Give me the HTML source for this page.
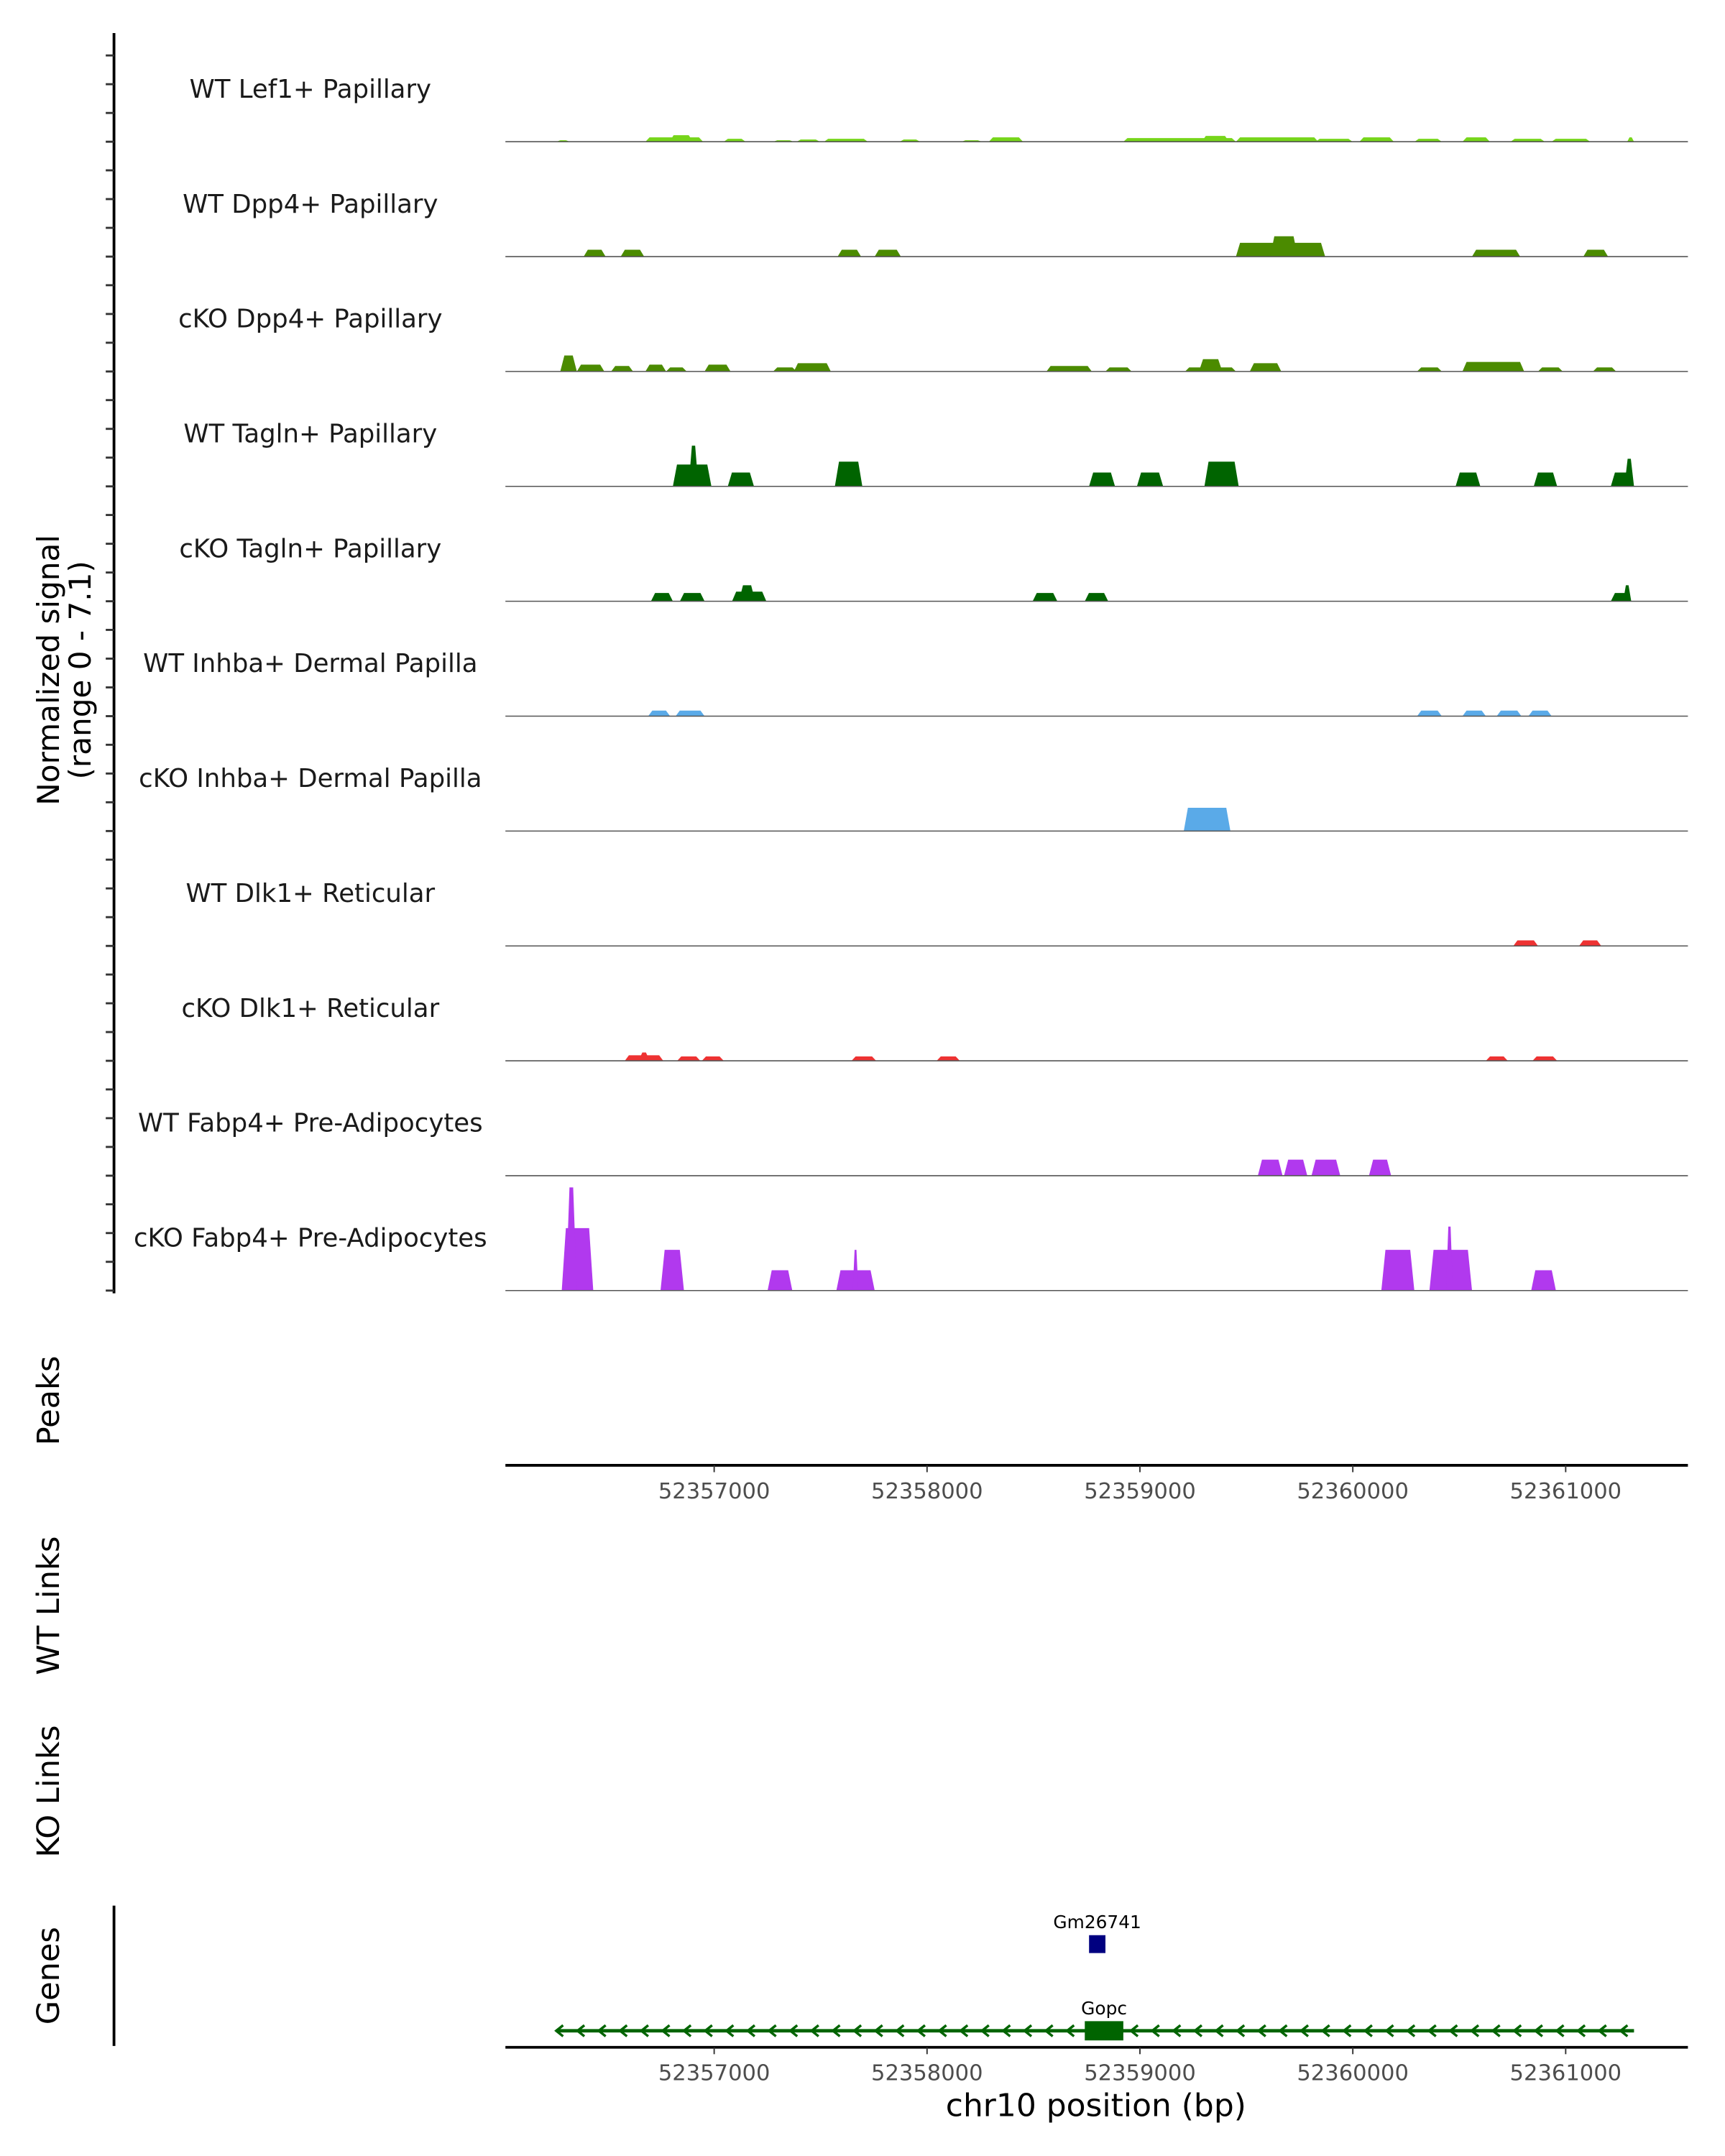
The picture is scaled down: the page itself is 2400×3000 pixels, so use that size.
<!DOCTYPE html>
<html><head><meta charset="utf-8"><style>
html,body{margin:0;padding:0;background:#fff}
svg{display:block}
text{font-family:"DejaVu Sans","Liberation Sans",sans-serif}
</style></head><body>
<svg id="chart" width="2400" height="3000" viewBox="0 0 1256 1567" preserveAspectRatio="none" xmlns="http://www.w3.org/2000/svg">
<g id="tracks"></g>
<g id="axes"></g>
</svg>
<script>
const trackNames = ["WT Lef1+ Papillary","WT Dpp4+ Papillary","cKO Dpp4+ Papillary","WT Tagln+ Papillary","cKO Tagln+ Papillary","WT Inhba+ Dermal Papilla","cKO Inhba+ Dermal Papilla","WT Dlk1+ Reticular","cKO Dlk1+ Reticular","WT Fabp4+ Pre-Adipocytes","cKO Fabp4+ Pre-Adipocytes"];
const trackColors = ["#76d51a","#4b8b00","#4b8b00","#006400","#006400","#5aaae8","#5aaae8","#ee3232","#ee3232","#b139ee","#b139ee"];
const xTicks = [52357000,52358000,52359000,52360000,52361000];
const xTickLabels = ["52357000","52358000","52359000","52360000","52361000"];
// peaks: [start offset bp from 52356000, end offset, signal]
const peaks0 = [[258,323,.1],[677,948,.3],[790,900,.45],[1045,1148,.2],[1277,1374,.1],[1387,1497,.15],[1516,1722,.2],[1871,1968,.15],[2161,2258,.1],[2290,2451,.3],[2922,3451,.25],[3290,3419,.4],[3451,3838,.3],[3825,3999,.2],[4031,4193,.3],[4290,4418,.2],[4515,4644,.3],[4741,4902,.2],[4934,5115,.2],[5289,5321,.3]];
const peaks1 = [[387,490,.47],[561,671,.47],[1580,1690,.47],[1754,1877,.47],[3451,3870,.95],[3612,3741,1.4],[4560,4786,.47],[5083,5199,.47]];
const peaks2 = [[277,355,1.1],[355,484,.47],[516,619,.38],[677,774,.47],[774,871,.28],[955,1077,.47],[1277,1387,.28],[1374,1548,.57],[2561,2774,.38],[2838,2961,.28],[3212,3451,.28],[3277,3387,.85],[3516,3664,.57],[4302,4418,.28],[4515,4805,.66],[4870,4986,.28],[5128,5237,.28]];
const peaks3 = [[806,987,1.5],[880,926,2.8],[1064,1187,.95],[1567,1696,1.7],[2761,2883,.95],[2986,3109,.95],[3303,3464,1.7],[3340,3430,1.5],[4483,4599,.95],[4850,4960,.95],[5212,5321,.95],[5276,5321,1.9]];
const peaks4 = [[703,806,.57],[839,955,.57],[1084,1245,.66],[1116,1193,1.1],[2496,2612,.57],[2741,2851,.57],[5212,5308,.57],[5270,5308,1.1]];
const peaks5 = [[690,793,.38],[819,955,.38],[4302,4418,.38],[4515,4625,.38],[4676,4792,.38],[4825,4934,.38]];
const peaks6 = [[3206,3425,1.6]];
const peaks7 = [[4754,4870,.38],[5063,5167,.38]];
const peaks8 = [[580,761,.38],[645,697,.57],[826,935,.3],[942,1045,.3],[1645,1761,.3],[2045,2154,.3],[4625,4728,.3],[4844,4960,.3]];
const peaks9 = [[3554,3670,1.1],[3677,3786,1.1],[3806,3941,1.1],[4076,4180,1.1]];
const peaks10 = [[284,432,4.3],[303,355,7.1],[748,858,2.8],[1251,1367,1.4],[1574,1754,1.4],[1651,1677,2.8],[4134,4289,2.8],[4360,4560,2.8],[4438,4470,4.4],[4838,4954,1.4]];
const allPeaks = [peaks0,peaks1,peaks2,peaks3,peaks4,peaks5,peaks6,peaks7,peaks8,peaks9,peaks10];
const genes = [{name:"Gm26741",start:2761,end:2838,y:1413,h:13,color:"#000080",line:false},{name:"Gopc",start:2741,end:2922,y:1476,h:14,color:"#006400",line:true,lineStart:258,lineEnd:5321}];
const yMax = 7.1;

const NS="http://www.w3.org/2000/svg";
const plotL=368, plotR=1229;
function x(off){return 365 + off/1000*155;}
function xAbs(bp){return x(bp-52356000);}
const base0=103, step=83.5, trackH=75;
function y(v,i){return base0+i*step - v/yMax*trackH;}
function mk(tag,attrs,parent,txt){const e=document.createElementNS(NS,tag);for(const k in attrs)e.setAttribute(k,attrs[k]);if(txt!==undefined)e.textContent=txt;parent.appendChild(e);return e;}
const T=document.getElementById('tracks'), A=document.getElementById('axes');

trackNames.forEach((nm,i)=>{
  const b=base0+i*step;
  const g=mk('g',{},T);
  
  
  const lab=mk('text',{x:226,y:b-32,'font-size':18.6,'text-anchor':'middle',fill:'#1a1a1a'},g,nm);
  
  
  allPeaks[i].forEach(p=>{
    const x0=x(p[0]),x1=x(p[1]);const s=Math.min(3,(x1-x0)/3);
    const yt=y(p[2],i);
    const poly=mk('polygon',{points:`${x0},${b} ${x0+s},${yt} ${x1-s},${yt} ${x1},${b}`,fill:trackColors[i]},g);
    
    
  });
  const bl=mk('line',{x1:plotL,x2:plotR,y1:b,y2:b,stroke:'#555','stroke-width':0.8},g);
  
  
});

// left axis
const ya=mk('line',{x1:83,x2:83,y1:24,y2:940,stroke:'#000','stroke-width':2},A);


for(let i=0;i<11;i++){for(let k=0;k<4;k++){const yy=base0+i*step-k*20.9;
  const t=mk('line',{x1:77,x2:83,y1:yy,y2:yy,stroke:'#333','stroke-width':1.5},A);
  
  }}
const yt=mk('text',{transform:'translate(43,487) rotate(-90)','font-size':22,'text-anchor':'middle',fill:'#000'},A);


mk('tspan',{x:0,dy:0},yt,'Normalized signal');
mk('tspan',{x:0,dy:23},yt,'(range 0 - 7.1)');

function sideLabel(txt,cy,name){const t=mk('text',{transform:`translate(36,${cy}) rotate(-90)`,'font-size':22.5,'text-anchor':'middle',fill:'#000',dy:7},A,txt);
  
  }
sideLabel('Peaks',1018,'peaks-label');
sideLabel('WT Links',1167,'wt-links-label');
sideLabel('KO Links',1302,'ko-links-label');
sideLabel('Genes',1436,'genes-label');

function xAxis(yy,name){
  const l=mk('line',{x1:plotL,x2:plotR,y1:yy,y2:yy,stroke:'#000','stroke-width':2},A);
  
  
  xTicks.forEach((tv,j)=>{const xx=xAbs(tv);
    const t=mk('line',{x1:xx,x2:xx,y1:yy,y2:yy+5,stroke:'#333','stroke-width':1},A);
    
    
    const tl=mk('text',{x:xx,y:yy+24,'font-size':16,'text-anchor':'middle',fill:'#4d4d4d'},A,xTickLabels[j]);
    
    });
}
xAxis(1065,'peaks-x-axis');
xAxis(1488,'genes-x-axis');
const xt=mk('text',{x:798,y:1538,'font-size':23,'text-anchor':'middle',fill:'#000'},A,'chr10 position (bp)');


const ga=mk('line',{x1:83,x2:83,y1:1385,y2:1487,stroke:'#000','stroke-width':2},A);



genes.forEach(gn=>{
  const g=mk('g',{},A);
  
  
  if(gn.line){const l0=x(gn.lineStart),l1=x(gn.lineEnd);
    mk('line',{x1:l0,x2:l1,y1:gn.y,y2:gn.y,stroke:gn.color,'stroke-width':2.5},g);
    for(let xx=l0;xx<l1;xx+=15.5){mk('polyline',{points:`${xx+5},${gn.y-4} ${xx},${gn.y} ${xx+5},${gn.y+4}`,fill:'none',stroke:gn.color,'stroke-width':1.8},g);}
  }
  mk('rect',{x:x(gn.start),y:gn.y-gn.h/2,width:x(gn.end)-x(gn.start),height:gn.h,fill:gn.color},g);
  const t=mk('text',{x:(x(gn.start)+x(gn.end))/2,y:gn.y-gn.h/2-5,'font-size':13,'text-anchor':'middle',fill:'#000'},g,gn.name);
  
  
});
</script>
</body></html>
